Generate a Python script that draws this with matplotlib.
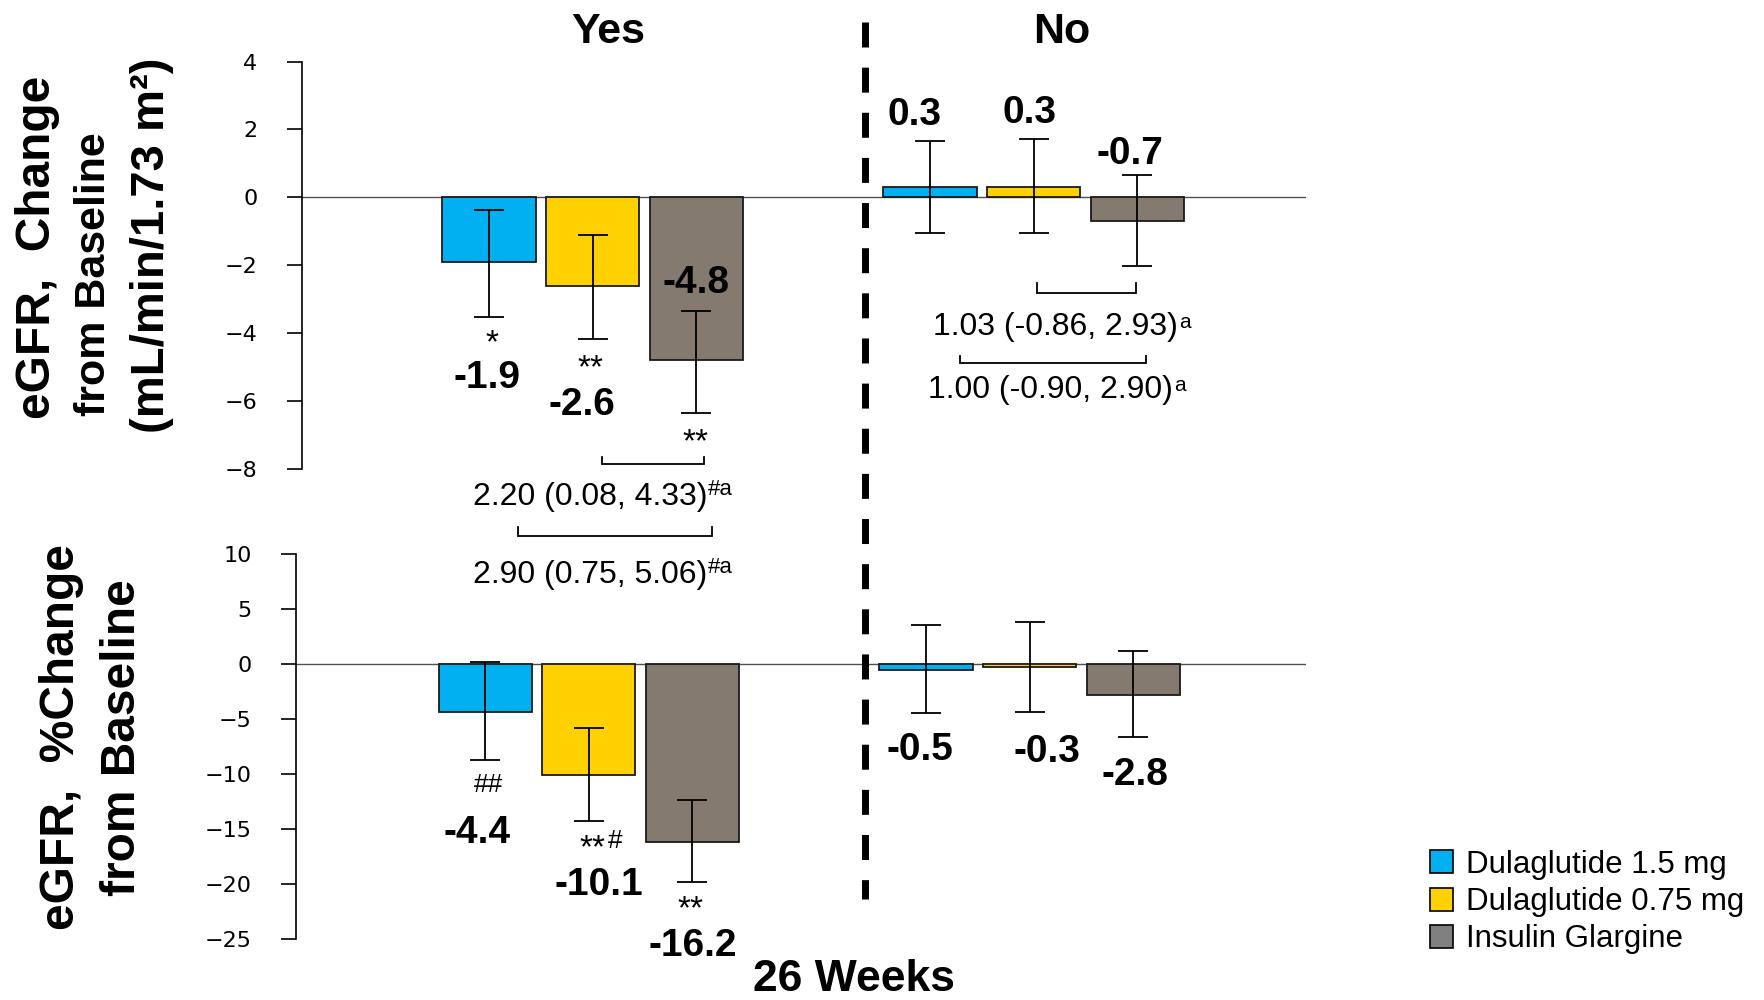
import matplotlib
matplotlib.use('Agg')
import matplotlib.pyplot as plt
from matplotlib.patches import Patch
from matplotlib.lines import Line2D
import numpy as np

plt.rcParams['font.family'] = ['Liberation Sans', 'DejaVu Sans']

# ---------------- data ----------------
treatments = ['Dulaglutide 1.5 mg', 'Dulaglutide 0.75 mg', 'Insulin Glargine']
groups = ['Yes', 'No']
bar_colors = ['#00B0F0', '#FFD100', '#857A70']
legend_colors = ['#00B0F0', '#FFD100', '#808080']

# eGFR change from baseline (mL/min/1.73 m2)
chg_yes = [-1.9, -2.6, -4.8]
chg_yes_lo = [-3.52, -4.17, -6.36]
chg_yes_hi = [-0.37, -1.12, -3.35]
chg_no = [0.3, 0.3, -0.7]
chg_no_lo = [-1.04, -1.04, -2.02]
chg_no_hi = [1.67, 1.72, 0.66]

# eGFR % change from baseline
pct_yes = [-4.4, -10.1, -16.2]
pct_yes_lo = [-8.75, -14.23, -19.8]
pct_yes_hi = [0.2, -5.86, -12.38]
pct_no = [-0.5, -0.3, -2.8]
pct_no_lo = [-4.44, -4.32, -6.65]
pct_no_hi = [3.59, 3.83, 1.14]

chg_ticks = [4, 2, 0, -2, -4, -6, -8]
pct_ticks = [10, 5, 0, -5, -10, -15, -20, -25]

chg_sig_yes = ['*', '**', '**']     # vs baseline
pct_sig_yes = ['', '**', '**']      # vs baseline
pct_hash_yes = ['##', '#', '']      # vs insulin glargine

chg_comp_yes = ['2.20 (0.08, 4.33)', '2.90 (0.75, 5.06)']
chg_comp_yes_sup = ['#a', '#a']
chg_comp_no = ['1.03 (-0.86, 2.93)', '1.00 (-0.90, 2.90)']
chg_comp_no_sup = ['a', 'a']

# ---------------- layout ----------------
W, H = 1765, 1000
fig = plt.figure(figsize=(W / 100, H / 100), dpi=100)


def box(l, t, r, b):
    return [l / W, 1 - b / H, (r - l) / W, (b - t) / H]


ax1 = fig.add_axes(box(302, 61.5, 1306, 469))
ax2 = fig.add_axes(box(296, 554, 1306, 939))

x_yes = np.arange(3, dtype=float)
x_no = x_yes + 4.255
bar_w = 0.9


def draw_panel(ax, yes, yes_lo, yes_hi, no, no_lo, no_hi, ticks, xlim):
    ax.axhline(0, color='#505050', lw=1.0, zorder=1)
    for xs, v, lo, hi in ((x_yes, yes, yes_lo, yes_hi), (x_no, no, no_lo, no_hi)):
        v = np.array(v)
        ax.bar(xs, v, width=bar_w, color=bar_colors, edgecolor='#1a1a1a',
               linewidth=1.3, zorder=2)
        ax.errorbar(xs, v, yerr=[v - np.array(lo), np.array(hi) - v], fmt='none',
                    ecolor='black', elinewidth=1.3, capsize=10.5, capthick=1.3,
                    zorder=3)
    ax.set_xlim(*xlim)
    ax.set_ylim(min(ticks), max(ticks))
    ax.set_yticks(ticks)
    for s in ('top', 'right', 'bottom'):
        ax.spines[s].set_visible(False)
    ax.spines['left'].set_linewidth(1.2)
    ax.set_xticks([])
    ax.tick_params(axis='y', direction='out', length=11, width=1.2, pad=21,
                   labelsize=16, labelfontfamily='DejaVu Sans')
    ax.patch.set_alpha(0)


draw_panel(ax1, chg_yes, chg_yes_lo, chg_yes_hi, chg_no, chg_no_lo, chg_no_hi,
           chg_ticks, (-1.806, 7.885))
draw_panel(ax2, pct_yes, pct_yes_lo, pct_yes_hi, pct_no, pct_no_lo, pct_no_hi,
           pct_ticks, (-1.826, 7.922))

# value labels (positions in data units of each panel)
chg_yes_lx = [-0.02, 0.90, 2.0]
chg_yes_ly = [-5.62, -6.41, -2.82]
chg_no_lx = [4.11, 5.22, 6.19]
chg_no_ly = [2.13, 2.19, 0.98]
chg_sig_lx = [0.03, 0.98, 1.99]
chg_sig_ly = [-4.56, -5.30, -7.48]

pct_yes_lx = [-0.08, 1.10, 2.0]
pct_yes_ly = [-16.3, -21.0, -26.5]
pct_no_lx = [4.20, 5.42, 6.27]
pct_no_ly = [-8.73, -8.9, -11.0]
pct_sig_lx = [0.0, 1.04, 1.98]
pct_sig_ly = [0.0, -17.53, -23.16]
pct_hash_lx = [0.03, 1.25, 0.0]
pct_hash_ly = [-11.64, -16.7, 0.0]

for ax, vals, lx, ly in ((ax1, chg_yes, chg_yes_lx, chg_yes_ly),
                         (ax1, chg_no, chg_no_lx, chg_no_ly),
                         (ax2, pct_yes, pct_yes_lx, pct_yes_ly),
                         (ax2, pct_no, pct_no_lx, pct_no_ly)):
    for v, x, y in zip(vals, lx, ly):
        ax.text(x, y, f'{v:.1f}', ha='center', va='baseline', fontsize=28,
                fontweight='bold', zorder=5)

for ax, sigs, lx, ly, fs in ((ax1, chg_sig_yes, chg_sig_lx, chg_sig_ly, 24),
                             (ax2, pct_sig_yes, pct_sig_lx, pct_sig_ly, 24),
                             (ax2, pct_hash_yes, pct_hash_lx, pct_hash_ly, 19)):
    for s, x, y in zip(sigs, lx, ly):
        if s:
            ax.text(x, y, s, ha='center', va='baseline', fontsize=fs, zorder=5)


def bracket(ax, x0, x1, y, h):
    ax.plot([x0, x0, x1, x1], [y + h, y, y, y + h], color='black', lw=1.3,
            clip_on=False, solid_joinstyle='miter')


bracket(ax1, 1.09, 2.07, -7.85, 0.2)
bracket(ax1, 0.28, 2.15, -9.97, 0.26)
bracket(ax1, 5.29, 6.24, -2.82, 0.3)
bracket(ax1, 4.55, 6.34, -4.88, 0.21)


def comp_text(ax, x, y, main, sup, rise, sfs):
    t = ax.text(x, y, main, ha='center', va='baseline', fontsize=23)
    ax.annotate(sup, xy=(1, 0), xycoords=t, xytext=(0.5, rise),
                textcoords='offset points', ha='left', va='baseline', fontsize=sfs)


comp_text(ax1, 0.974, -9.06, chg_comp_yes[0], chg_comp_yes_sup[0], 12, 16)
comp_text(ax1, 0.974, -11.36, chg_comp_yes[1], chg_comp_yes_sup[1], 12, 16)
comp_text(ax1, 5.47, -4.06, chg_comp_no[0], chg_comp_no_sup[0], 10, 15)
comp_text(ax1, 5.42, -5.91, chg_comp_no[1], chg_comp_no_sup[1], 10, 15)

# dashed separator
fig.add_artist(Line2D([865 / W, 865 / W], [1 - 22 / H, 1 - 899 / H],
                      transform=fig.transFigure, color='black', lw=5,
                      dashes=(3.6, 2.9)))

# group headings and x title
fig.text(608 / W, 1 - 43 / H, groups[0], ha='center', va='baseline', fontsize=31, fontweight='bold')
fig.text(1061.5 / W, 1 - 43 / H, groups[1], ha='center', va='baseline', fontsize=31, fontweight='bold')
fig.text(854 / W, 1 - 991 / H, '26 Weeks', ha='center', va='baseline', fontsize=32, fontweight='bold')

# y labels
for txt, x, y, fs in (('eGFR,  Change', 37.5, 247, 34.5),
                      ('from Baseline', 94.5, 274, 31),
                      ('(mL/min/1.73 m\u00b2)', 152, 245, 34)):
    fig.text(x / W, 1 - y / H, txt, rotation=90, ha='center', va='center',
             fontsize=fs, fontweight='bold')
for txt, x, y, fs in (('eGFR,  %Change', 62, 737, 34.5),
                      ('from Baseline', 123, 738, 34.5)):
    fig.text(x / W, 1 - y / H, txt, rotation=90, ha='center', va='center',
             fontsize=fs, fontweight='bold')

# legend
handles = [Patch(facecolor=c, edgecolor='black', linewidth=1.2) for c in legend_colors]
fig.legend(handles, treatments, loc='center left', bbox_to_anchor=(1430 / W, 1 - 902 / H),
           frameon=False, fontsize=22.5, handlelength=0.75, handleheight=0.75,
           handletextpad=0.4, labelspacing=0.24, borderpad=0, borderaxespad=0)

fig.savefig('out.png', dpi=100)
